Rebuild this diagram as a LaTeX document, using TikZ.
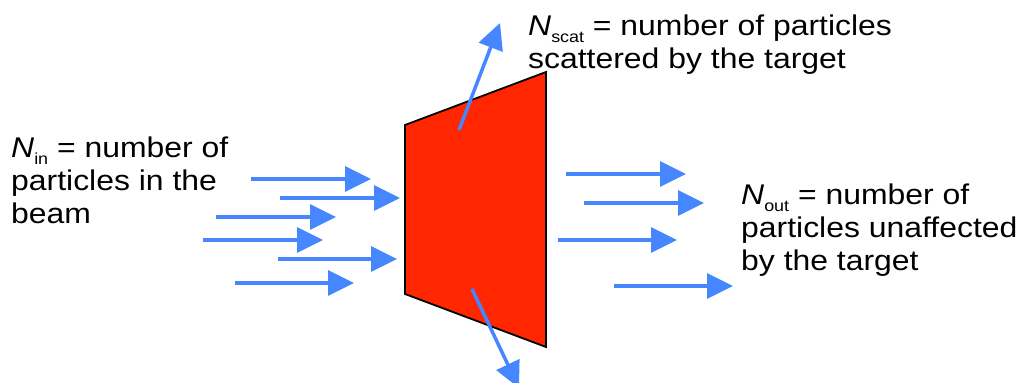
\documentclass[tikz,border=0pt]{standalone}
\usepackage{fontspec}
\setmainfont[FakeStretch=1.12]{Liberation Sans}
\usetikzlibrary{arrows.meta}
\definecolor{beamblue}{RGB}{70,134,255}
\definecolor{targetred}{RGB}{255,38,0}
\newcommand\lowsub[1]{\raisebox{-7pt}{\fontsize{16}{16}\selectfont #1}}
\tikzset{
  beam/.style={draw=beamblue, line width=3.5pt, -{Triangle[length=26pt,width=25pt]}},
  target/.style={fill=targetred, draw=black, line width=1.8pt, line join=miter},
  label/.style={anchor=north west, inner sep=0pt, align=left, font=\fontsize{28.5}{33}\selectfont}
}
\begin{document}
\begin{tikzpicture}[x=1pt,y=-1pt]
\useasboundingbox (0,0) rectangle (1021,383);
% target
\draw[target] (405,125) -- (546,72) -- (546,347) -- (405,294) -- cycle;
% incoming beam
\foreach \i/\xa/\xb/\y in {1/251/371/179, 2/280/400/198, 3/216/336/217, 4/203/323/240, 5/278/397/259, 6/235/354/283}{
  \coordinate (in\i a) at (\xa,\y);
  \coordinate (in\i b) at (\xb,\y);
  \draw[beam] (in\i a) -- (in\i b);
}
% outgoing beam
\foreach \i/\xa/\xb/\y in {1/566/686/174, 2/584/704/203, 3/558/677/240, 4/614/733/286}{
  \coordinate (out\i a) at (\xa,\y);
  \coordinate (out\i b) at (\xb,\y);
  \draw[beam] (out\i a) -- (out\i b);
}
% scattered
\coordinate (s1a) at (459,130);
\coordinate (s1b) at (500,23);
\draw[beam] (s1a) -- (s1b);
\coordinate (s2a) at (472,289);
\coordinate (s2b) at (519,388);
\draw[beam] (s2a) -- (s2b);
% labels
\node[label] (nin) at (11,137) {{\itshape N}\lowsub{in} = number of\\particles in the\\beam};
\node[label] (nout) at (741,184) {{\itshape N}\lowsub{out} = number of\\particles unaffected\\by the target};
\node[label] (nscat) at (528,15) {{\itshape N}\lowsub{scat} = number of particles\\scattered by the target};
\end{tikzpicture}
\end{document}
